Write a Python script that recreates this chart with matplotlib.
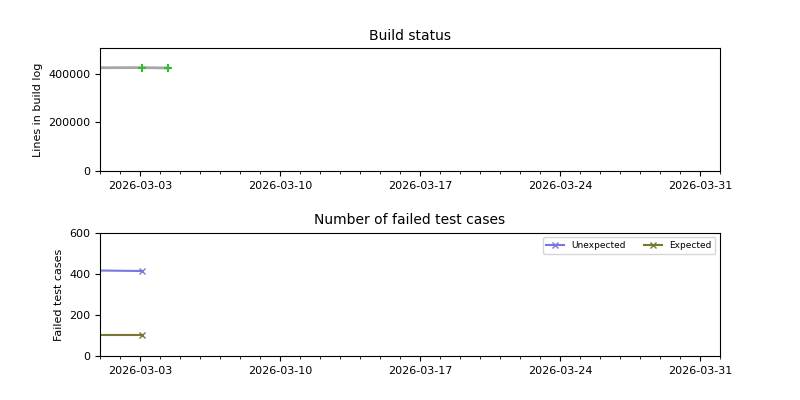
import matplotlib
matplotlib.use("Agg")
import matplotlib.pyplot as plt
import matplotlib.dates as mdates
from datetime import datetime

build_dates = [datetime(2026, 2, 27, 12), datetime(2026, 3, 3, 2), datetime(2026, 3, 4, 10)]
build_lines = [424000, 424500, 423000]
ok_dates = [datetime(2026, 3, 3, 2), datetime(2026, 3, 4, 10)]
ok_lines = [424500, 423000]

test_dates = [datetime(2026, 2, 27, 12), datetime(2026, 3, 3, 2)]
unexpected = [418, 414]
expected = [103, 103]

plt.rcParams['font.size'] = 8
fig, (ax1, ax2) = plt.subplots(2, 1, figsize=(8, 4), dpi=100)
fig.subplots_adjust(hspace=0.5)

ax1.plot(build_dates, build_lines, color='gray', lw=2, alpha=0.7)
ax1.plot(ok_dates, ok_lines, linestyle='none', marker='+', color='#33bb33', ms=6, mew=1.5)
ax1.set_title('Build status', fontsize=10)
ax1.set_ylabel('Lines in build log')
ax1.set_ylim(0, 505000)
ax1.set_yticks([0, 200000, 400000])

ax2.plot(test_dates, unexpected, color='#7777dd', marker='x', ms=5, label='Unexpected')
ax2.plot(test_dates, expected, color='#777733', marker='x', ms=5, label='Expected')
ax2.set_title('Number of failed test cases', fontsize=10)
ax2.set_ylabel('Failed test cases')
ax2.set_ylim(0, 600)
ax2.legend(loc='upper right', ncol=2, fontsize=6.5)

for ax in (ax1, ax2):
    ax.set_xlim(datetime(2026, 3, 1), datetime(2026, 4, 1))
    ax.xaxis.set_major_locator(mdates.WeekdayLocator(byweekday=mdates.TU))
    ax.xaxis.set_minor_locator(mdates.DayLocator())
    ax.xaxis.set_major_formatter(mdates.DateFormatter('%Y-%m-%d'))

fig.savefig('out.png')
